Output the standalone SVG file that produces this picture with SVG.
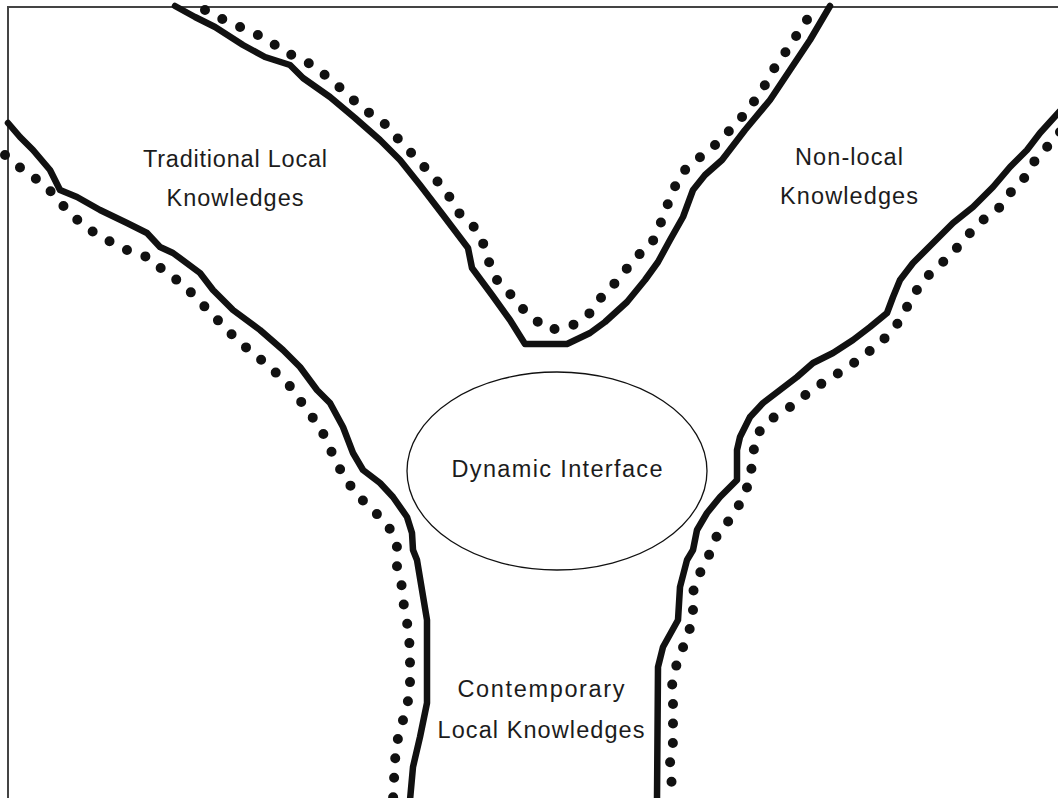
<svg xmlns="http://www.w3.org/2000/svg" width="1058" height="798" viewBox="0 0 1058 798">
<style>
.solid{fill:none;stroke:#111;stroke-width:6.5;stroke-linejoin:round;stroke-linecap:round}
.dots{fill:none;stroke:#111;stroke-width:10;stroke-dasharray:0 19.5;stroke-linecap:round;stroke-linejoin:round}
.lbl{font-family:"Liberation Sans",Arial,sans-serif;font-size:23.5px;fill:#1c1c1c;text-anchor:middle}
.frame{fill:none;stroke:#444;stroke-width:2}
</style>
<rect width="1058" height="798" fill="#fff"/>
<path class="frame" d="M8,800 L8,7 L1060,7"/>
<g id="connectors">
<polyline class="solid" points="175,6 195,17 215,27 243,45 265,57 290,65 303,78 330,97 355,118 380,140 400,160 420,185 443,215 468,248 472,268 492,295 510,320 525,344 567,344 590,333 605,322 627,302 645,280 658,262 670,240 683,217 693,190 705,175 722,160 745,130 770,100 790,70 810,40 830,6"/>
<polyline class="dots" points="205,10 228,22 250,31 268,40 285,52 307,62 325,75 345,92 362,108 383,122 400,141 415,157 430,173 446,191 458,212 475,228 483,243 490,265 497,280 513,297 528,315 550,330 573,325 590,313 603,295 620,278 633,260 652,243 662,220 670,198 680,175 692,163 710,150 725,135 738,122 753,103 767,82 775,67 787,50 800,30 815,8"/>
<polyline class="solid" points="8,123 20,137 33,150 50,170 60,190 77,197 100,210 127,223 147,233 160,247 173,253 200,273 213,290 233,310 260,330 283,350 300,367 317,390 330,403 343,427 353,453 363,470 380,483 393,497 407,517 412,533 413,550 417,560 422,590 427,620 427,703 420,737 413,767 410,800"/>
<polyline class="dots" points="5,155 23,170 45,185 67,210 85,227 107,240 127,250 150,258 166,273 183,284 198,300 212,314 227,330 243,345 258,357 274,371 289,385 302,403 313,418 324,435 333,455 343,475 357,495 373,510 389,527 397,547 397,567 402,587 404,607 408,628 410,650 410,693 405,713 398,738 395,760 393,800"/>
<polyline class="solid" points="1060,111 1040,133 1027,150 1010,167 993,187 973,207 953,223 933,243 913,263 900,280 893,297 887,313 870,327 853,340 833,353 813,363 797,377 780,390 763,403 750,417 740,437 737,450 737,480 720,497 707,513 697,530 693,550 687,560 680,587 678,620 663,647 658,667 657,800"/>
<polyline class="dots" points="1060,132 1053,140 1033,163 1023,180 1010,193 1000,207 983,220 970,233 955,250 938,267 923,280 912,298 898,323 885,338 865,355 847,368 827,380 808,393 790,407 773,418 758,433 752,457 751,477 743,498 732,517 718,533 710,553 700,573 693,592 693,617 688,635 678,660 672,680 673,702 673,742 670,763 673,800"/>
</g>
<g id="traditional">
<text class="lbl" x="235" y="167" textLength="184">Traditional Local</text>
<text class="lbl" x="235" y="206" textLength="137">Knowledges</text>
</g>
<g id="nonlocal">
<text class="lbl" x="849" y="165" textLength="108">Non-local</text>
<text class="lbl" x="849" y="204" textLength="138">Knowledges</text>
</g>
<g id="interface">
<ellipse cx="557" cy="471" rx="150" ry="99" fill="none" stroke="#111" stroke-width="1.3"/>
<text class="lbl" x="557" y="477" textLength="211">Dynamic Interface</text>
</g>
<g id="contemporary">
<text class="lbl" x="541" y="697" textLength="167">Contemporary</text>
<text class="lbl" x="541" y="738" textLength="207">Local Knowledges</text>
</g>
</svg>
